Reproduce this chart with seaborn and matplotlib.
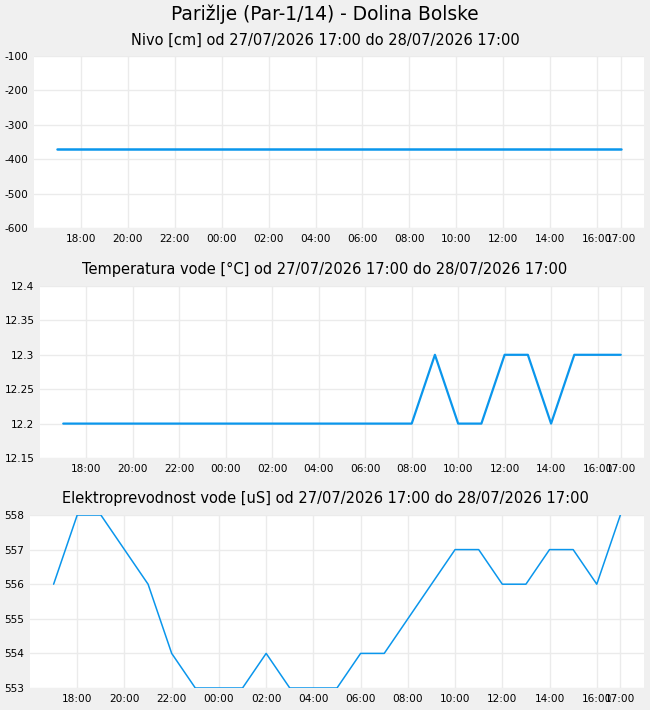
import pandas as pd
import matplotlib
matplotlib.use('Agg')
import matplotlib.pyplot as plt
import matplotlib.dates as mdates
import matplotlib.ticker as mticker
import seaborn as sns

# ================= PODATKI =================
station_title = 'Parižlje (Par-1/14) - Dolina Bolske'
period = 'od 27/07/2026 17:00 do 28/07/2026 17:00'

hours = ['2026-07-27 17:00', '2026-07-27 18:00', '2026-07-27 19:00', '2026-07-27 20:00',
         '2026-07-27 21:00', '2026-07-27 22:00', '2026-07-27 23:00', '2026-07-28 00:00',
         '2026-07-28 01:00', '2026-07-28 02:00', '2026-07-28 03:00', '2026-07-28 04:00',
         '2026-07-28 05:00', '2026-07-28 06:00', '2026-07-28 07:00', '2026-07-28 08:00',
         '2026-07-28 09:00', '2026-07-28 10:00', '2026-07-28 11:00', '2026-07-28 12:00',
         '2026-07-28 13:00', '2026-07-28 14:00', '2026-07-28 15:00', '2026-07-28 16:00',
         '2026-07-28 17:00']

nivo = [-370, -370, -370, -370, -370, -370, -370, -370, -370, -370, -370, -370, -370,
        -370, -370, -370, -370, -370, -370, -370, -370, -370, -370, -370, -370]
temperatura = [12.2, 12.2, 12.2, 12.2, 12.2, 12.2, 12.2, 12.2, 12.2, 12.2, 12.2, 12.2, 12.2,
               12.2, 12.2, 12.2, 12.3, 12.2, 12.2, 12.3, 12.3, 12.2, 12.3, 12.3, 12.3]
prevodnost = [556, 558, 558, 557, 556, 554, 553, 553, 553, 554, 553, 553, 553,
              554, 554, 555, 556, 557, 557, 556, 556, 557, 557, 556, 558]

nivo_ticks = [-600, -500, -400, -300, -200, -100]
temp_ticks = [12.15, 12.2, 12.25, 12.3, 12.35, 12.4]
prev_ticks = [553, 554, 555, 556, 557, 558]

df = pd.DataFrame({'cas': pd.to_datetime(hours), 'nivo': nivo,
                   'temperatura': temperatura, 'prevodnost': prevodnost})

# ================= STIL =================
sns.set_style('white', {'axes.facecolor': 'white', 'figure.facecolor': '#f0f0f0',
                        'grid.color': '#ebebeb', 'text.color': 'black',
                        'xtick.color': 'black', 'ytick.color': 'black'})
plt.rcParams['font.family'] = ['DejaVu Sans']

line_color = '#0a96ec'
W, H = 650, 710
fig = plt.figure(figsize=(6.5, 7.1), dpi=100, facecolor='#f0f0f0')

# (levo, zgoraj, spodaj) v pikslih
panels = [
    ('nivo', 'Nivo [cm]', 34, 56, 228, nivo_ticks, 1.8),
    ('temperatura', 'Temperatura vode [°C]', 40, 286, 458, temp_ticks, 1.6),
    ('prevodnost', 'Elektroprevodnost vode [uS]', 30, 515, 688, prev_ticks, 1.1),
]
title_y = [40, 269, 498]

fig.text(0.5, 1 - 14 / H, station_title, ha='center', va='center', fontsize=13.4, color='black')

xticks = list(df['cas'].iloc[1:24:2]) + [df['cas'].iloc[-1]]

for (col, label, left, top, bottom, yticks, lw), ty in zip(panels, title_y):
    ax = fig.add_axes([left / W, 1 - bottom / H, (644 - left) / W, (bottom - top) / H])
    sns.lineplot(data=df, x='cas', y=col, ax=ax, color=line_color, linewidth=lw)
    ax.set_xlim(df['cas'].iloc[0] - pd.Timedelta(hours=1), df['cas'].iloc[-1] + pd.Timedelta(hours=1))
    ax.set_ylim(yticks[0], yticks[-1])
    ax.set_yticks(yticks)
    ax.yaxis.set_major_formatter(mticker.FuncFormatter(lambda v, p: f'{v:g}'))
    ax.set_xticks(xticks)
    ax.xaxis.set_major_formatter(mdates.DateFormatter('%H:%M'))
    ax.grid(True, color='#ebebeb', linewidth=1)
    ax.set_axisbelow(True)
    for s in ax.spines.values():
        s.set_visible(False)
    ax.tick_params(length=0, labelsize=7.6, pad=4, colors='black')
    ax.set_xlabel('')
    ax.set_ylabel('')
    fig.text(0.5, 1 - ty / H, f'{label} {period}', ha='center', va='center',
             fontsize=10.5, color='black')

fig.savefig('out.png', dpi=100, facecolor=fig.get_facecolor())
